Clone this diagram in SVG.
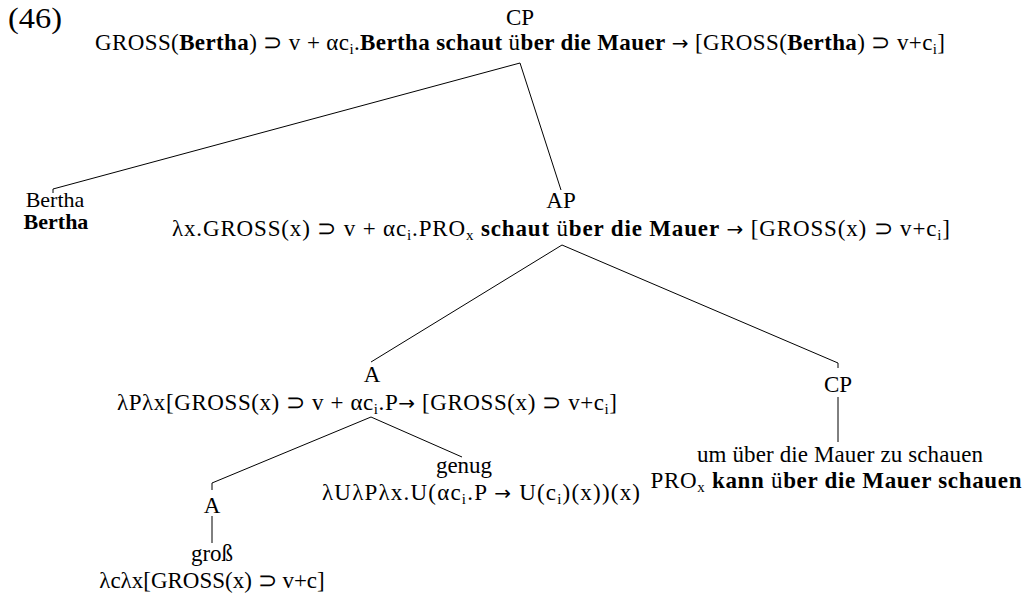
<svg xmlns="http://www.w3.org/2000/svg" width="1024" height="601" viewBox="0 0 1024 601">
  <style>
    text { font-size: 23px; fill: #000; text-anchor: middle; }
    .b { font-weight: bold; }
    .sub { font-size: 15px; }
    .arr { font-family: "DejaVu Sans", sans-serif; font-size: 20px; }
    text.num { text-anchor: start; font-size: 29px; }
    text.leaf { font-size: 22px; }
    .edge { stroke: #000; stroke-width: 1; fill: none; }
  </style>
  <rect width="1024" height="601" fill="#fff"/>

  <text class="num" x="8" y="28" textLength="54" lengthAdjust="spacingAndGlyphs" font-family="Liberation Serif, serif">(46)</text>

  <g id="cp-root">
    <text x="520" y="25" font-family="Liberation Serif, serif">CP</text>
    <text x="520" y="50" textLength="850" lengthAdjust="spacing" font-family="Liberation Serif, serif">GROSS(<tspan class="b">Bertha</tspan>) ⊃ v + αc<tspan class="sub" dy="4">i</tspan><tspan dy="-4">.</tspan><tspan class="b">Bertha schaut </tspan>ü<tspan class="b">ber die Mauer</tspan> <tspan class="arr">→</tspan> [GROSS(<tspan class="b">Bertha</tspan>) ⊃ v+c<tspan class="sub" dy="4">i</tspan><tspan dy="-4">]</tspan></text>
  </g>

  <g id="bertha">
    <text class="leaf" x="55" y="207" font-family="Liberation Serif, serif">Bertha</text>
    <text class="leaf b" x="56" y="229" font-family="Liberation Serif, serif">Bertha</text>
  </g>

  <g id="ap">
    <text x="561" y="208" font-family="Liberation Serif, serif">AP</text>
    <text x="561" y="236" textLength="778" lengthAdjust="spacing" font-family="Liberation Serif, serif">λx.GROSS(x) ⊃ v + αc<tspan class="sub" dy="4">i</tspan><tspan dy="-4">.PRO</tspan><tspan class="sub" dy="4">x</tspan><tspan dy="-4" class="b"> schaut </tspan>ü<tspan class="b">ber die Mauer</tspan> <tspan class="arr">→</tspan> [GROSS(x) ⊃ v+c<tspan class="sub" dy="4">i</tspan><tspan dy="-4">]</tspan></text>
  </g>

  <g id="a-phrase">
    <text x="372" y="382" font-family="Liberation Serif, serif">A</text>
    <text x="367" y="410" textLength="500" lengthAdjust="spacing" font-family="Liberation Serif, serif">λPλx[GROSS(x) ⊃ v + αc<tspan class="sub" dy="4">i</tspan><tspan dy="-4">.P</tspan><tspan class="arr">→</tspan> [GROSS(x) ⊃ v+c<tspan class="sub" dy="4">i</tspan><tspan dy="-4">]</tspan></text>
  </g>

  <g id="cp-clause">
    <text x="838" y="392" font-family="Liberation Serif, serif">CP</text>
    <text x="840" y="462" textLength="286" lengthAdjust="spacing" font-family="Liberation Serif, serif">um über die Mauer zu schauen</text>
    <text x="836" y="488" textLength="371" lengthAdjust="spacing" font-family="Liberation Serif, serif">PRO<tspan class="sub" dy="4">x</tspan><tspan dy="-4" class="b"> kann </tspan>ü<tspan class="b">ber die Mauer schauen</tspan></text>
  </g>

  <g id="genug">
    <text x="464" y="473" font-family="Liberation Serif, serif">genug</text>
    <text x="481" y="500" textLength="318" lengthAdjust="spacing" font-family="Liberation Serif, serif">λUλPλx.U(αc<tspan class="sub" dy="4">i</tspan><tspan dy="-4">.P </tspan><tspan class="arr">→</tspan> U(c<tspan class="sub" dy="4">i</tspan><tspan dy="-4">)(x))(x)</tspan></text>
  </g>

  <g id="a-head">
    <text x="212" y="513" font-family="Liberation Serif, serif">A</text>
    <text x="212" y="561" font-family="Liberation Serif, serif">groß</text>
    <text x="212" y="588" font-family="Liberation Serif, serif">λcλx[GROSS(x) ⊃ v+c]</text>
  </g>

  <g id="edges">
    <polyline class="edge" points="53,193 53,189 520,63 561,190"/>
    <polyline class="edge" points="371,362 562,245 838,363 838,368"/>
    <line class="edge" x1="838" y1="397" x2="838" y2="442"/>
    <polyline class="edge" points="212,490 212,483 371,417 462,457"/>
    <line class="edge" x1="212" y1="516" x2="212" y2="543"/>
  </g>
</svg>
